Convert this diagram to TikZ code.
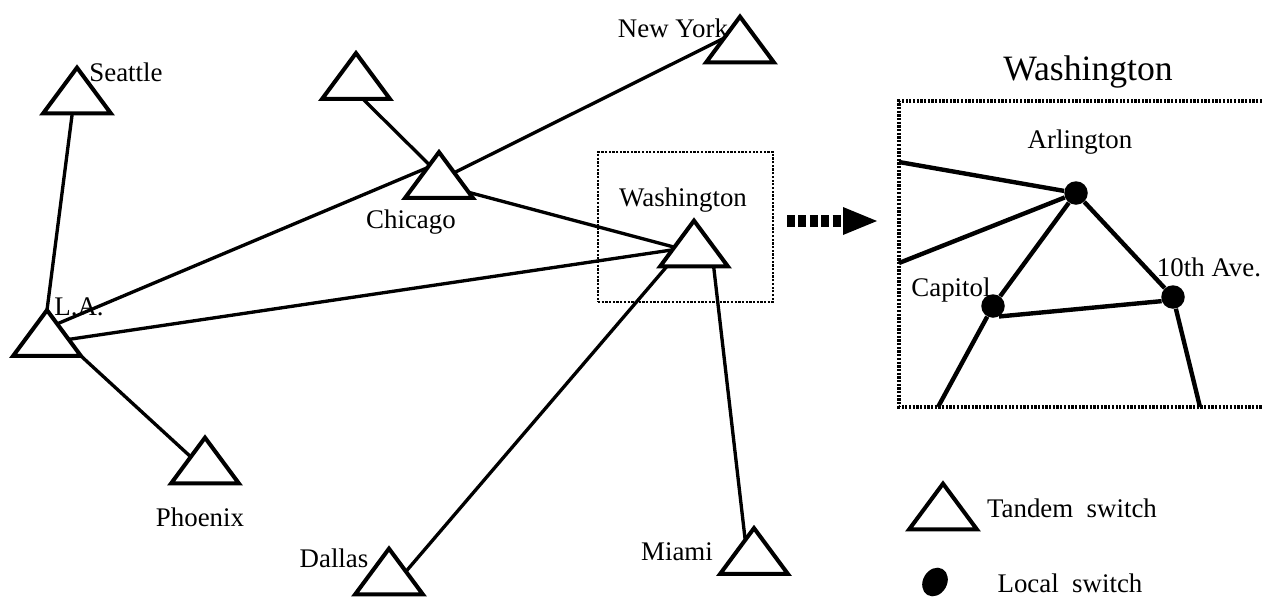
\documentclass[tikz,border=0pt]{standalone}
\usepackage{fontspec}
\setmainfont{Liberation Serif}
\usetikzlibrary{calc,shapes.geometric}
\begin{document}
\begin{tikzpicture}[x=0.02cm,y=-0.02cm,
  switch/.style={inner sep=0pt, minimum width=1.34cm, minimum height=0.9cm},
  tri/.style={line width=2.3pt, line join=miter},
  link/.style={line width=1.9pt},
  wlink/.style={line width=2.5pt},
  local/.style={circle, fill=black, inner sep=0pt, minimum size=0.47cm},
  lbl/.style={font=\fontsize{15.3}{18}\selectfont, inner sep=0pt},
  title/.style={font=\fontsize{20.3}{24}\selectfont, inner sep=0pt},
  dotbox/.style={line width=1.6pt, dash pattern=on 1.3pt off 0.8pt},
]
\useasboundingbox (0,0) rectangle (1262,596);

% tandem switches: each node box is the bounding box of its triangle
\node[switch] (sea) at (77,90.5) {};
\node[switch] (ut)  at (356,76) {};
\node[switch] (chi) at (439,175) {};
\node[switch] (ny)  at (740,39.5) {};
\node[switch] (was) at (694,243.5) {};
\node[switch] (la)  at (47,333) {};
\node[switch] (pho) at (205,460.5) {};
\node[switch] (dal) at (389,571.5) {};
\node[switch] (mia) at (754,551) {};
\node[switch] (leg) at (943,506.5) {};

% trunk lines between tandem switches
\draw[link] ($(sea.south west)!0.43!(sea.south east)$) -- (la.north);
\draw[link] ($(ut.south west)!0.6!(ut.south east)$) -- ($(chi.south west)!0.72!(chi.north)$);
\draw[link] ($(la.south east)!0.7!(la.north)$) -- ($(chi.south west)!0.66!(chi.north)$);
\draw[link] ($(chi.south east)!0.55!(chi.north)$) -- ($(ny.south west)!0.53!(ny.north)$);
\draw[link] ($(chi.south east)!0.12!(chi.north)$) -- ($(was.south west)!0.42!(was.north)$);
\draw[link] ($(la.south east)!0.36!(la.north)$) -- ($(was.south west)!0.36!(was.north)$);
\draw[link] (la.south east) -- ($(pho.south west)!0.58!(pho.north)$);
\draw[link] ($(was.south west)!0.1!(was.south east)$) -- ($(dal.south east)!0.5!(dal.north)$);
\draw[link] ($(was.south west)!0.79!(was.south east)$) -- ($(mia.south west)!0.74!(mia.north)$);

% triangle outlines
\foreach \n in {sea,ut,chi,ny,was,la,pho,dal,mia,leg}
  \draw[tri] (\n.south west) -- (\n.north) -- (\n.south east) -- cycle;

% city names
\node[lbl] (seaL) at (126,72)  {Seattle};
\node[lbl] (nyL)  at (673,28)  {New York};
\node[lbl] (chiL) at (411,222) {Chicago};
\node[lbl] (wasL) at (683,200) {Washington};
\node[lbl] (laL)  at (79,307)  {L.A.};
\node[lbl] (phoL) at (200,517) {Phoenix};
\node[lbl] (dalL) at (334,558) {Dallas};
\node[lbl] (miaL) at (677,552) {Miami};

% area around Washington and the zoom arrow
\node[dotbox, draw, inner sep=0pt, minimum width=3.5cm, minimum height=3.0cm] (zoom) at (685.5,227) {};
\coordinate (arrA) at (787,221);
\coordinate (arrB) at (843,221);
\draw[line width=0.24cm, dash pattern=on 4.5pt off 2pt] (arrA) -- (arrB);
\fill (arrB) ++(0,-14) -- ++(34,14) -- ++(-34,14) -- cycle;

% detail of the Washington area
\node[title] (wasT) at (1088,72) {Washington};
\draw[dotbox, line width=1.9pt] (1262,101) -- (899,101) -- (899,407) -- (1262,407);
\node[local] (arl) at (1076,193) {};
\node[local] (cap) at (993,306) {};
\node[local] (ten) at (1173,297) {};
\coordinate (inA) at (899,162);
\coordinate (inB) at (899,263);
\coordinate (outC) at (938,407);
\coordinate (outT) at (1200,407);
\draw[wlink] (inA) -- (arl);
\draw[wlink] (inB) -- (arl);
\draw[wlink] (arl) -- (cap);
\draw[wlink] (arl) -- (ten);
\draw[wlink] (cap.300) -- (ten.200);
\draw[wlink] (cap) -- (outC);
\draw[wlink] (ten) -- (outT);
\node[lbl] (arlL) at (1080,142) {Arlington};
\node[lbl] (capL) at (951,290)  {Capitol};
\node[lbl] (tenL) at (1209,267) {10th Ave.};

% legend
\node[lbl] (legT) at (1072,508) {Tandem\ \ switch};
\node[ellipse, fill=black, inner sep=0pt, minimum width=0.6cm, minimum height=0.48cm, rotate=60] (legdot) at (935,582) {};
\node[lbl] (legL) at (1070,583) {Local\ \ switch};
\end{tikzpicture}
\end{document}
